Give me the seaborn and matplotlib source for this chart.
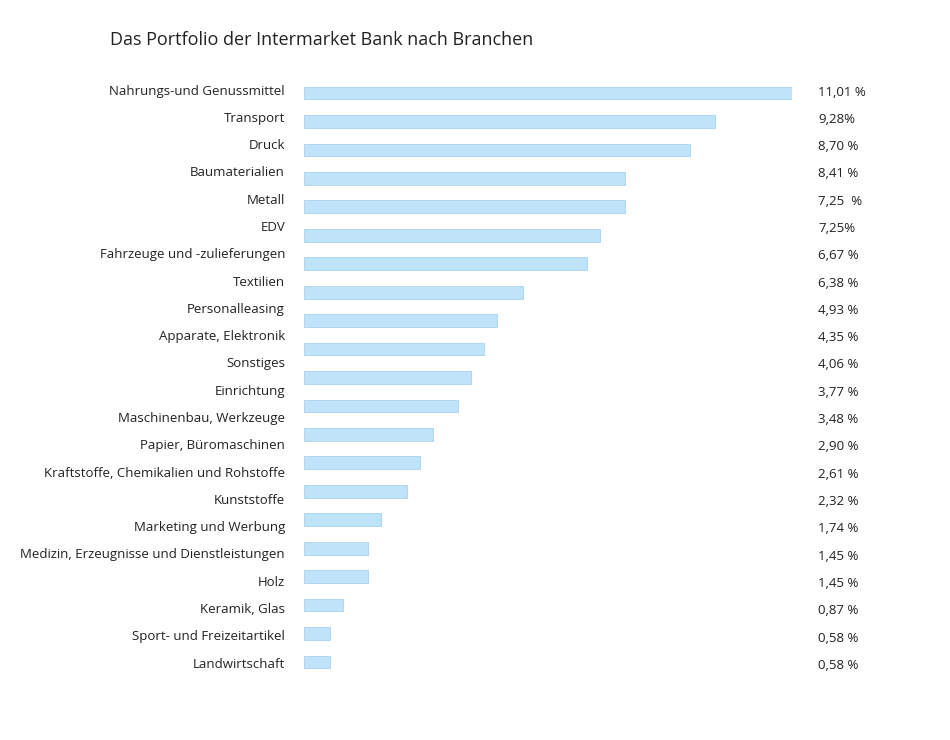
import matplotlib
matplotlib.use("Agg")
import matplotlib.pyplot as plt
import seaborn as sns
import pandas as pd

categories = ["Nahrungs-und Genussmittel", "Transport", "Druck", "Baumaterialien", "Metall", "EDV",
              "Fahrzeuge und -zulieferungen", "Textilien", "Personalleasing", "Apparate, Elektronik",
              "Sonstiges", "Einrichtung", "Maschinenbau, Werkzeuge", "Papier, Büromaschinen",
              "Kraftstoffe, Chemikalien und Rohstoffe", "Kunststoffe", "Marketing und Werbung",
              "Medizin, Erzeugnisse und Dienstleistungen", "Holz", "Keramik, Glas",
              "Sport- und Freizeitartikel", "Landwirtschaft"]
value_labels = ["11,01 %", "9,28%", "8,70 %", "8,41 %", "7,25  %", "7,25%", "6,67 %", "6,38 %",
                "4,93 %", "4,35 %", "4,06 %", "3,77 %", "3,48 %", "2,90 %", "2,61 %", "2,32 %",
                "1,74 %", "1,45 %", "1,45 %", "0,87 %", "0,58 %", "0,58 %"]
# bars as drawn in the reference (21 bars)
bar_values = [11.01, 9.28, 8.70, 7.25, 7.25, 6.67, 6.38, 4.93, 4.35, 4.06, 3.77, 3.48,
              2.90, 2.61, 2.32, 1.74, 1.45, 1.45, 0.87, 0.58, 0.58]

sns.set_theme(style="white")
plt.rcParams['font.family'] = ['Open Sans', 'DejaVu Sans']

W, H = 950, 740
fig = plt.figure(figsize=(9.5, 7.4), dpi=100)
top_px, bot_px = 93 - 14.2, 662 + 14.2
ax = fig.add_axes([304 / W, 1 - bot_px / H, 488 / W, (bot_px - top_px) / H])

df = pd.DataFrame({"pos": list(range(len(bar_values))), "v": bar_values})
sns.barplot(data=df, x="v", y="pos", orient="h", color="#bfe4fa", saturation=1,
            width=0.45, edgecolor="#a9d3ee", linewidth=0.6, ax=ax)
ax.set_xlim(0, 11.01)
ax.set_ylim(20.5, -0.5)
ax.axis("off")

for i, (c, v) in enumerate(zip(categories, value_labels)):
    ly = 1 - (91 + 27.29 * i) / H
    vy = 1 - (92 + 27.3 * i) / H
    fig.text(285 / W, ly, c, ha="right", va="center", fontsize=9.5, color="#222222")
    fig.text(818 / W, vy, v, ha="left", va="center", fontsize=9.5, color="#222222")

fig.text(110 / W, 1 - 40 / H, "Das Portfolio der Intermarket Bank nach Branchen",
         ha="left", va="center", fontsize=13, color="#222222")

fig.savefig("out.png", dpi=100, facecolor="white")
